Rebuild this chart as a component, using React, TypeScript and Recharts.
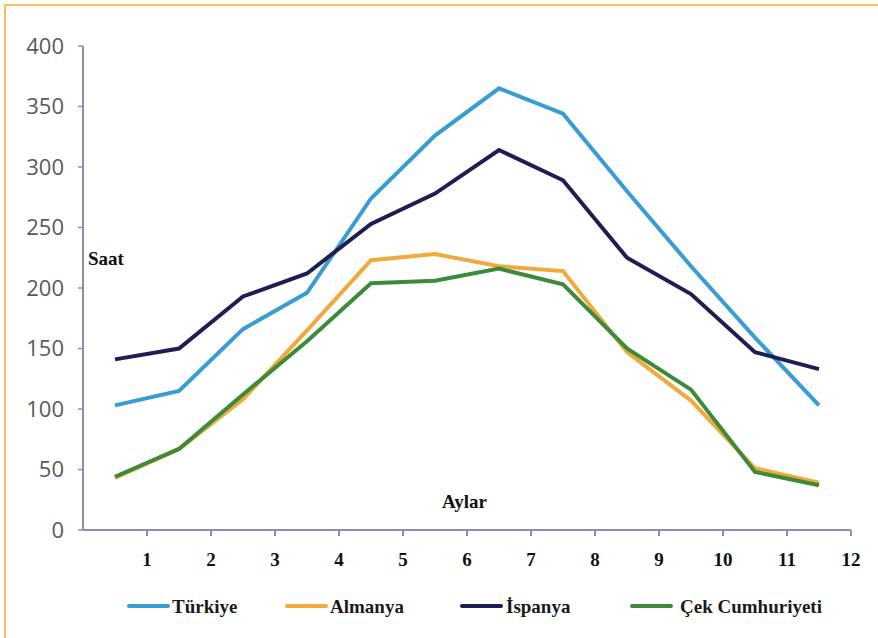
import React from "react";
import { LineChart, Line, XAxis, YAxis, Legend } from "recharts";

// Month midpoints on the 0–12 month axis
const MONTH_POS = [0.5, 1.5, 2.5, 3.5, 4.5, 5.5, 6.5, 7.5, 8.5, 9.5, 10.5, 11.5];
const MONTH_TICKS = [1, 2, 3, 4, 5, 6, 7, 8, 9, 10, 11, 12];
const HOUR_TICKS = [0, 50, 100, 150, 200, 250, 300, 350, 400];

// Monthly sunshine hours
const TURKIYE = [103, 115, 166, 196, 274, 326, 365, 344, 280, 218, 159, 103];
const ALMANYA = [43, 67, 108, 165, 223, 228, 218, 214, 147, 107, 51, 39];
const ISPANYA = [141, 150, 193, 212, 253, 278, 314, 289, 225, 195, 147, 133];
const CEK = [44, 67, 112, 156, 204, 206, 216, 203, 150, 116, 48, 37];

const SERIES = [
  { key: "turkiye", name: "Türkiye", color: "#379DD3", values: TURKIYE },
  { key: "almanya", name: "Almanya", color: "#F0A93A", values: ALMANYA },
  { key: "ispanya", name: "İspanya", color: "#1E1E52", values: ISPANYA },
  { key: "cek", name: "Çek Cumhuriyeti", color: "#3C8A3A", values: CEK },
];

const data = MONTH_POS.map((x, i) => {
  const row: Record<string, number> = { x };
  SERIES.forEach((s) => {
    row[s.key] = s.values[i];
  });
  return row;
});

const SERIF = "'Liberation Serif', 'Times New Roman', serif";
const AXIS_COLOR = "#8E8EAB";

// Legend item placement (line start, gap before text)
const LEGEND_LAYOUT = [
  { left: 127, gap: 2 },
  { left: 285, gap: 2 },
  { left: 460, gap: 3 },
  { left: 630, gap: 7 },
];

const renderLegend = () => (
  <div style={{ position: "relative", height: 0, width: 878 }}>
    {SERIES.map((s, i) => (
      <div
        key={s.key}
        style={{
          position: "absolute",
          left: LEGEND_LAYOUT[i].left,
          top: 594,
          height: 24,
          display: "flex",
          alignItems: "center",
          whiteSpace: "nowrap",
        }}
      >
        <span
          style={{
            display: "inline-block",
            width: 43,
            height: 4,
            borderRadius: 2,
            background: s.color,
          }}
        />
        <span
          style={{
            marginLeft: LEGEND_LAYOUT[i].gap,
            fontFamily: SERIF,
            fontWeight: "bold",
            fontSize: 19,
            lineHeight: "19px",
            color: "#1a1a1a",
          }}
        >
          {s.name}
        </span>
      </div>
    ))}
  </div>
);

export default function App() {
  return (
    <div
      style={{
        position: "absolute",
        left: 0,
        top: 0,
        width: 878,
        height: 638,
        background: "#ffffff",
        overflow: "hidden",
      }}
    >
      <div
        style={{
          position: "absolute",
          left: 4,
          top: 4,
          right: 0,
          bottom: 0,
          borderTop: "2px solid #F7C258",
          borderLeft: "2px solid #F7C258",
        }}
      />
      <LineChart
        width={878}
        height={638}
        data={data}
        margin={{ top: 46, right: 27, bottom: 78, left: 3 }}
        style={{ position: "absolute", left: 0, top: 0 }}
      >
        <XAxis
          type="number"
          dataKey="x"
          domain={[0, 12]}
          ticks={MONTH_TICKS}
          height={30}
          stroke={AXIS_COLOR}
          axisLine={{ stroke: AXIS_COLOR, strokeWidth: 2 }}
          tickLine={{ stroke: AXIS_COLOR, strokeWidth: 2 }}
          tickSize={6}
          tickMargin={17}
          tick={{ fill: "#111111", fontFamily: SERIF, fontWeight: "bold", fontSize: 19 }}
          interval={0}
        />
        <YAxis
          type="number"
          domain={[0, 400]}
          ticks={HOUR_TICKS}
          width={80}
          axisLine={{ stroke: AXIS_COLOR, strokeWidth: 2 }}
          tickLine={{ stroke: AXIS_COLOR, strokeWidth: 1.5 }}
          tickSize={5}
          tickMargin={14}
          tick={{ fill: "#595959", fontFamily: "'Open Sans', sans-serif", fontSize: 22 }}
          interval={0}
        />
        <Legend
          content={renderLegend}
          wrapperStyle={{ position: "absolute", left: 0, top: 0, width: 878, height: 0 }}
        />
        {SERIES.map((s) => (
          <Line
            key={s.key}
            type="linear"
            dataKey={s.key}
            name={s.name}
            stroke={s.color}
            strokeWidth={4}
            dot={false}
            activeDot={false}
            isAnimationActive={false}
          />
        ))}
      </LineChart>
      <svg
        width={878}
        height={638}
        style={{ position: "absolute", left: 0, top: 0, pointerEvents: "none" }}
      >
        <text x={88} y={265} fontFamily={SERIF} fontWeight="bold" fontSize={19} fill="#111111">
          Saat
        </text>
        <text x={442} y={508} fontFamily={SERIF} fontWeight="bold" fontSize={19} fill="#111111">
          Aylar
        </text>
      </svg>
    </div>
  );
}
